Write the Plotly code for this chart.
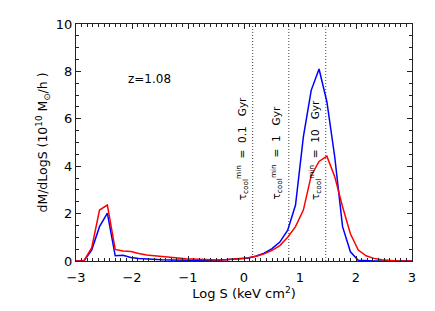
import plotly.graph_objects as go

# ---- data ----
log_s = [-3.00, -2.86, -2.72, -2.58, -2.44, -2.30, -2.16, -2.02, -1.88, -1.74,
         -1.60, -1.46, -1.32, -1.18, -1.04, -0.90, -0.76, -0.62, -0.48, -0.34,
         -0.20, -0.06, 0.08, 0.22, 0.36, 0.50, 0.64, 0.78, 0.92, 1.06,
         1.20, 1.34, 1.48, 1.62, 1.76, 1.90, 2.04, 2.18, 2.32, 2.46,
         2.60, 2.74, 2.88, 3.00]
red_vals = [0.0, 0.0, 0.55, 2.15, 2.36, 0.49, 0.42, 0.40, 0.32, 0.25,
            0.22, 0.18, 0.17, 0.13, 0.10, 0.08, 0.05, 0.04, 0.04, 0.05,
            0.07, 0.10, 0.14, 0.20, 0.30, 0.45, 0.65, 1.00, 1.45, 2.15,
            3.60, 4.20, 4.42, 3.56, 2.29, 1.15, 0.46, 0.22, 0.11, 0.05,
            0.01, 0.0, 0.0, 0.0]
blue_vals = [0.0, 0.0, 0.46, 1.45, 2.02, 0.22, 0.24, 0.15, 0.11, 0.08,
             0.06, 0.05, 0.04, 0.03, 0.03, 0.02, 0.02, 0.02, 0.03, 0.04,
             0.06, 0.09, 0.13, 0.21, 0.33, 0.52, 0.80, 1.30, 2.36, 5.24,
             7.20, 8.10, 6.72, 4.40, 1.45, 0.39, 0.03, 0.0, 0.0, 0.0,
             0.0, 0.0, 0.0, 0.0]

tcool_logS = [0.155, 0.80, 1.46]
tcool_labels = ["0.1", "1", "10"]
label_x = [-0.02, 0.59, 1.27]
label_y = 2.49
redshift_text = "z=1.08"
redshift_pos = (-1.68, 7.7)

x_ticks = [-3, -2, -1, 0, 1, 2, 3]
x_ticktext = ["\u22123", "\u22122", "\u22121", "0", "1", "2", "3"]
y_ticks = [0, 2, 4, 6, 8, 10]

FONT = "DejaVu Sans, Verdana, sans-serif"
NB = "\u00a0"

fig = go.Figure()

# vertical dotted lines
for xv in tcool_logS:
    fig.add_trace(go.Scatter(x=[xv, xv], y=[0, 10], mode="lines",
                             line=dict(color="#444444", width=1, dash="1px,2px"),
                             showlegend=False, hoverinfo="skip"))

fig.add_trace(go.Scatter(x=log_s, y=blue_vals, mode="lines",
                         line=dict(color="#0000ff", width=1.5),
                         showlegend=False))
fig.add_trace(go.Scatter(x=log_s, y=red_vals, mode="lines",
                         line=dict(color="#ff0000", width=1.5),
                         showlegend=False))

for lx, lab in zip(label_x, tcool_labels):
    txt = ("\u03c4<sub>cool</sub><sup>min</sup>" + NB * 2 + "=" + NB * 2 + lab
           + NB * 3 + "Gyr")
    fig.add_annotation(x=lx, y=label_y, xref="x", yref="y", text=txt,
                       textangle=-90, showarrow=False, xanchor="center",
                       yanchor="bottom", font=dict(family=FONT, size=10.5, color="black"))

fig.add_annotation(x=redshift_pos[0], y=redshift_pos[1], xref="x", yref="y",
                   text=redshift_text, showarrow=False,
                   font=dict(family=FONT, size=12, color="black"))

axis_common = dict(showline=True, linecolor="#222222", linewidth=1, mirror="ticks",
                   ticks="inside", ticklen=5, tickwidth=1, tickcolor="#222222",
                   showgrid=False, zeroline=False,
                   tickfont=dict(family=FONT, size=13, color="black"))

fig.update_xaxes(range=[-3, 3], tickvals=x_ticks, ticktext=x_ticktext,
                 ticklabelstandoff=4,
                 minor=dict(dtick=0.1, ticks="inside", ticklen=3, tickcolor="#222222",
                            showgrid=False),
                 title=dict(text="Log S (keV cm<sup>2</sup>)", standoff=0,
                            font=dict(family=FONT, size=13, color="black")),
                 **axis_common)
fig.update_yaxes(range=[0, 10], tickvals=y_ticks,
                 minor=dict(dtick=0.5, ticks="inside", ticklen=3, tickcolor="#222222",
                            showgrid=False),
                 title=dict(text="dM/dLogS (10<sup>10</sup> M<sub>\u2299</sub>/h )",
                            standoff=5,
                            font=dict(family=FONT, size=12.5, color="black")),
                 **axis_common)

# page body has an 8px margin: size the figure so the plot area lands where the reference's does
fig.update_layout(width=427, height=303,
                  margin=dict(l=68, r=23, t=16, b=50, autoexpand=False),
                  paper_bgcolor="white", plot_bgcolor="white",
                  font=dict(family=FONT, color="black"))

fig.write_html("out.html")
